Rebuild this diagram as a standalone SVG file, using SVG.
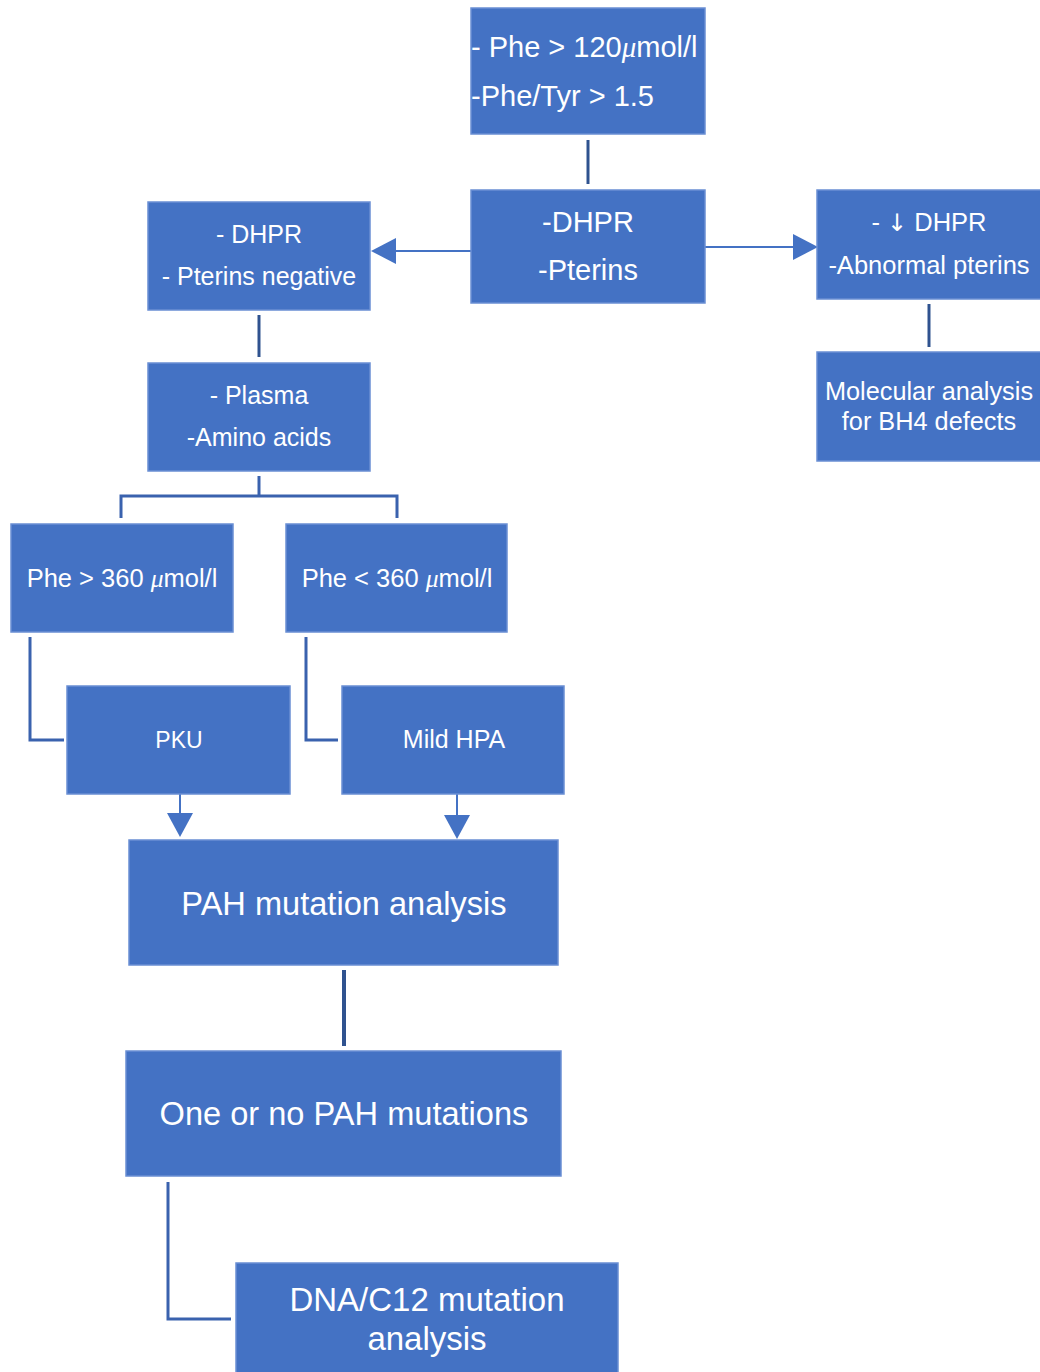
<svg xmlns="http://www.w3.org/2000/svg" width="1040" height="1372" viewBox="0 0 1040 1372">
<style>
.box{fill:#4472C4;stroke:#6A8FD3;stroke-width:1.5}
.t{font-family:"Liberation Sans",Arial,sans-serif;fill:#FFFFFF}
.mu{font-family:"Liberation Serif","Times New Roman",serif;font-style:italic}
.arr{font-family:"DejaVu Sans",sans-serif}
.dark{stroke:#2F528F;stroke-width:3;fill:none}
.lite{stroke:#4472C4;stroke-width:2;fill:none}
.mid{stroke:#3A62AE;stroke-width:3;fill:none}
.head{fill:#4472C4}
</style>
<rect width="1040" height="1372" fill="#FFFFFF"/>
<g id="connectors">
  <line class="dark" x1="588" y1="140" x2="588" y2="184"/>
  <line class="lite" x1="471" y1="251" x2="392" y2="251"/>
  <polygon class="head" points="371,251 396,238 396,264"/>
  <line class="lite" x1="705" y1="247" x2="797" y2="247"/>
  <polygon class="head" points="818,247 793,234 793,260"/>
  <line class="dark" x1="929" y1="304" x2="929" y2="347"/>
  <line class="dark" x1="259" y1="315" x2="259" y2="357"/>
  <polyline class="mid" points="259,476 259,496"/>
  <polyline class="mid" points="121,518 121,496 397,496 397,518"/>
  <polyline class="mid" points="30,637 30,740 64,740"/>
  <polyline class="mid" points="306,637 306,740 338,740"/>
  <line class="lite" x1="180" y1="794" x2="180" y2="816"/>
  <polygon class="head" points="180,837 167,813 193,813"/>
  <line class="lite" x1="457" y1="794" x2="457" y2="818"/>
  <polygon class="head" points="457,839 444,815 470,815"/>
  <line class="dark" x1="344" y1="970" x2="344" y2="1046" style="stroke-width:4"/>
  <polyline class="mid" points="168,1182 168,1319 231,1319"/>
</g>
<g id="n1">
  <rect class="box" x="471" y="8" width="234" height="126"/>
  <text class="t" x="471" y="57" font-size="29">- Phe &gt; 120<tspan class="mu">μ</tspan>mol/l</text>
  <text class="t" x="471" y="106" font-size="29">-Phe/Tyr &gt; 1.5</text>
</g>
<g id="n2">
  <rect class="box" x="471" y="190" width="234" height="113"/>
  <text class="t" x="588" y="232" font-size="29" text-anchor="middle">-DHPR</text>
  <text class="t" x="588" y="280" font-size="29" text-anchor="middle">-Pterins</text>
</g>
<g id="n3">
  <rect class="box" x="148" y="202" width="222" height="108"/>
  <text class="t" x="259" y="243" font-size="25" text-anchor="middle">- DHPR</text>
  <text class="t" x="259" y="285" font-size="25" text-anchor="middle">- Pterins negative</text>
</g>
<g id="n4">
  <rect class="box" x="817" y="190" width="230" height="109"/>
  <text class="t" x="929" y="231" font-size="25.5" text-anchor="middle">- <tspan class="arr" font-size="24">↓</tspan> DHPR</text>
  <text class="t" x="929" y="274" font-size="25.5" text-anchor="middle">-Abnormal pterins</text>
</g>
<g id="n5">
  <rect class="box" x="817" y="352" width="230" height="109"/>
  <text class="t" x="929" y="400" font-size="25.3" text-anchor="middle">Molecular analysis</text>
  <text class="t" x="929" y="430" font-size="25.3" text-anchor="middle">for BH4 defects</text>
</g>
<g id="n6">
  <rect class="box" x="148" y="363" width="222" height="108"/>
  <text class="t" x="259" y="404" font-size="25" text-anchor="middle">- Plasma</text>
  <text class="t" x="259" y="446" font-size="25" text-anchor="middle">-Amino acids</text>
</g>
<g id="n7">
  <rect class="box" x="11" y="524" width="222" height="108"/>
  <text class="t" x="122" y="587" font-size="25.5" text-anchor="middle">Phe &gt; 360 <tspan class="mu">μ</tspan>mol/l</text>
</g>
<g id="n8">
  <rect class="box" x="286" y="524" width="221" height="108"/>
  <text class="t" x="397" y="587" font-size="25.5" text-anchor="middle">Phe &lt; 360 <tspan class="mu">μ</tspan>mol/l</text>
</g>
<g id="n9">
  <rect class="box" x="67" y="686" width="223" height="108"/>
  <text class="t" x="179" y="748" font-size="23" text-anchor="middle">PKU</text>
</g>
<g id="n10">
  <rect class="box" x="342" y="686" width="222" height="108"/>
  <text class="t" x="454" y="748" font-size="25" text-anchor="middle">Mild HPA</text>
</g>
<g id="n11">
  <rect class="box" x="129" y="840" width="429" height="125"/>
  <text class="t" x="344" y="915" font-size="32.6" text-anchor="middle">PAH mutation analysis</text>
</g>
<g id="n12">
  <rect class="box" x="126" y="1051" width="435" height="125"/>
  <text class="t" x="344" y="1125" font-size="32.6" text-anchor="middle">One or no PAH mutations</text>
</g>
<g id="n13">
  <rect class="box" x="236" y="1263" width="382" height="115"/>
  <text class="t" x="427" y="1311" font-size="33" text-anchor="middle">DNA/C12 mutation</text>
  <text class="t" x="427" y="1350" font-size="33" text-anchor="middle">analysis</text>
</g>
</svg>
